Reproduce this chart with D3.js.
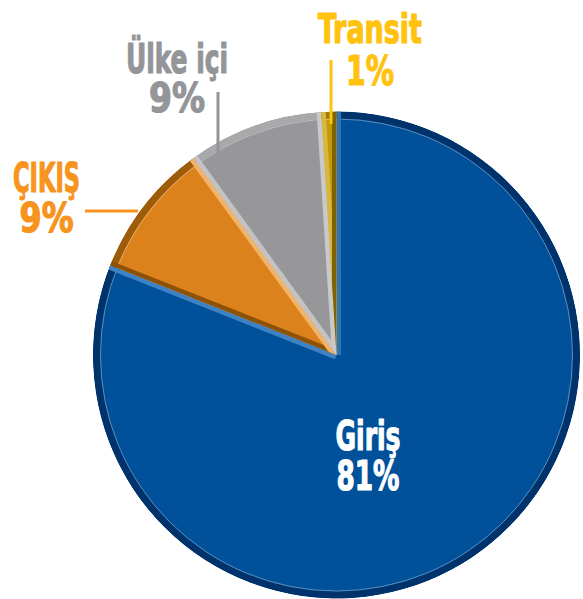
<!DOCTYPE html>
<html>
<head>
<meta charset="utf-8">
<script src="https://cdn.jsdelivr.net/npm/d3@7"></script>
<style>
  html, body { margin: 0; padding: 0; background: #fff; }
  svg { display: block; }
  text { font-family: "DejaVu Sans Condensed", "DejaVu Sans", sans-serif; font-weight: bold; }
</style>
</head>
<body>
<svg id="chart" width="583" height="599"></svg>
<script>
// Traffic share by type
const categories = ["Giriş", "ÇIKIŞ", "Ülke içi", "Transit"];
const shares = [81, 9, 9, 1];
const labels = ["81%", "9%", "9%", "1%"];

// fill, outer rim, start-edge bevel, end-edge bevel, label colour
const fills   = ["#00509a", "#dc821d", "#97979a", "#c19a08"];
const rims    = ["#00336b", "#9c5c09", "#a9a9ab", "#9c7c05"];
const startEd = ["#2e74b8", "#8e5206", "#c3c3c5", "#d9b640"];
const endEd   = ["#3f82c4", "#f0b36a", "#c9c9cb", "#7d6303"];
const labelCol = ["#ffffff", "#f7941d", "#939598", "#ffc20e"];

const svg = d3.select("#chart");
const cx = 336.5, cy = 355, R = 243.5;

const pie = d3.pie().sort(null).value(d => d);
const arcs = pie(shares);
const arc = d3.arc().innerRadius(0).outerRadius(R);

const defs = svg.append("defs");

arcs.forEach((a, i) => {
  const id = "slice-clip-" + i;
  defs.append("clipPath").attr("id", id)
    .append("path").attr("d", arc(a)).attr("transform", `translate(${cx},${cy})`);

  const s = svg.append("g").attr("clip-path", `url(#${id})`)
    .append("g").attr("transform", `translate(${cx},${cy})`);

  s.append("path").attr("d", arc(a)).attr("fill", fills[i]);

  // outer rim
  s.append("circle").attr("r", R - 3.5).attr("fill", "none")
    .attr("stroke", rims[i]).attr("stroke-width", 7);
  // thin highlight just inside the rim
  s.append("circle").attr("r", R - 7.5).attr("fill", "none")
    .attr("stroke", "#ffffff").attr("stroke-opacity", 0.35).attr("stroke-width", 1);

  // bevelled radial edges
  [[a.startAngle, startEd[i]], [a.endAngle, endEd[i]]].forEach(([ang, col]) => {
    s.append("line")
      .attr("x1", 0).attr("y1", 0)
      .attr("x2", Math.sin(ang) * R).attr("y2", -Math.cos(ang) * R)
      .attr("stroke", col).attr("stroke-width", 9);
  });
});

// labels: [index, centre x, name baseline, name width, value baseline, value width]
const labelPos = [
  [0, 368, 450, 65, 490, 63],
  [1, 46.5, 192, 67, 232, 54],
  [2, 177, 73, 102, 112, 56],
  [3, 370, 43, 104, 85, 48]
];
labelPos.forEach(([i, x, y1, w1, y2, w2]) => {
  const t = svg.append("g").attr("fill", labelCol[i]).attr("text-anchor", "middle")
    .attr("stroke", labelCol[i]).attr("stroke-width", 1.2).attr("stroke-linejoin", "round")
    .style("font-size", "41px");
  t.append("text").attr("x", x).attr("y", y1)
    .attr("textLength", w1).attr("lengthAdjust", "spacingAndGlyphs").text(categories[i]);
  t.append("text").attr("x", x).attr("y", y2)
    .attr("textLength", w2).attr("lengthAdjust", "spacingAndGlyphs").text(labels[i]);
});

// leader lines
const leaders = [
  [1, 85, 211, 138, 211],
  [2, 218, 92, 218, 155],
  [3, 331, 60, 331, 124]
];
leaders.forEach(([i, x1, y1, x2, y2]) => {
  svg.append("line").attr("x1", x1).attr("y1", y1).attr("x2", x2).attr("y2", y2)
    .attr("stroke", labelCol[i]).attr("stroke-width", 3);
});
</script>
</body>
</html>
